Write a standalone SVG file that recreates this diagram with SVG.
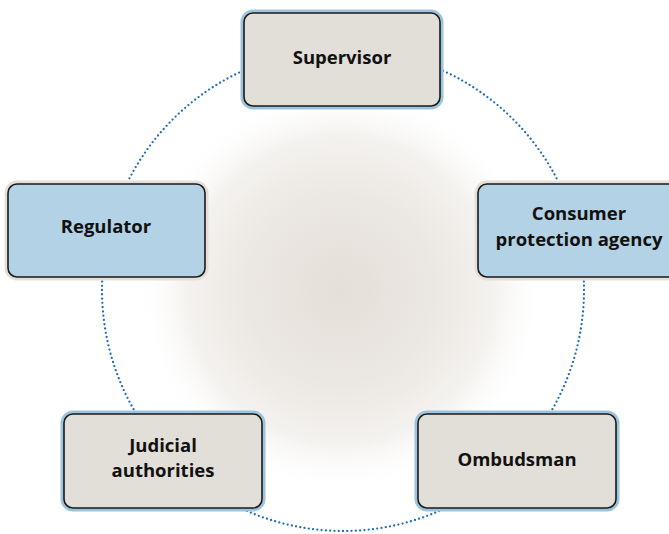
<svg xmlns="http://www.w3.org/2000/svg" width="669" height="534" viewBox="0 0 669 534">
<style>
.halo-b{fill:none;stroke:#9cc4de;stroke-width:7}
.halo-g{fill:none;stroke:#e5dfd7;stroke-width:7}
.box-g{fill:#e2ded8;stroke:#1a1a1a;stroke-width:1.6}
.box-b{fill:#b4d2e5;stroke:#1a1a1a;stroke-width:1.6}
.lbl{font-family:"Open Sans","DejaVu Sans",sans-serif;font-weight:bold;font-size:18.5px;fill:#111;text-anchor:middle}
.dots{fill:none;stroke:#1f6db3;stroke-width:2.3;stroke-linecap:round;stroke-dasharray:0 4.3}
</style>
<defs>
<radialGradient id="glow" cx="341" cy="290" r="205" gradientUnits="userSpaceOnUse">
<stop offset="0" stop-color="#e4dfd8"/>
<stop offset="0.45" stop-color="#ebe7e2"/>
<stop offset="0.75" stop-color="#f4f2ef"/>
<stop offset="1" stop-color="#ffffff" stop-opacity="0"/>
</radialGradient>
</defs>
<rect width="669" height="534" fill="#ffffff"/>
<circle cx="341" cy="290" r="205" fill="url(#glow)"/>
<g id="connectors">
<circle class="dots" cx="343" cy="290" r="241"/>
</g>
<g id="supervisor">
<rect class="halo-b" x="244" y="13" width="196" height="93" rx="9"/>
<rect class="box-g" x="244" y="13" width="196" height="93" rx="9"/>
<text class="lbl" x="342" y="64">Supervisor</text>
</g>
<g id="regulator">
<rect class="halo-g" x="8" y="184" width="197" height="93" rx="9"/>
<rect class="box-b" x="8" y="184" width="197" height="93" rx="9"/>
<text class="lbl" x="106" y="233">Regulator</text>
</g>
<g id="consumer">
<rect class="halo-g" x="478" y="184" width="200" height="93" rx="9"/>
<rect class="box-b" x="478" y="184" width="200" height="93" rx="9"/>
<text class="lbl" x="579" y="220">Consumer</text>
<text class="lbl" x="579" y="246">protection agency</text>
</g>
<g id="judicial">
<rect class="halo-b" x="64" y="414" width="198" height="94" rx="9"/>
<rect class="box-g" x="64" y="414" width="198" height="94" rx="9"/>
<text class="lbl" x="163" y="452">Judicial</text>
<text class="lbl" x="163" y="477">authorities</text>
</g>
<g id="ombudsman">
<rect class="halo-b" x="418" y="414" width="198" height="94" rx="9"/>
<rect class="box-g" x="418" y="414" width="198" height="94" rx="9"/>
<text class="lbl" x="517" y="466">Ombudsman</text>
</g>
</svg>
